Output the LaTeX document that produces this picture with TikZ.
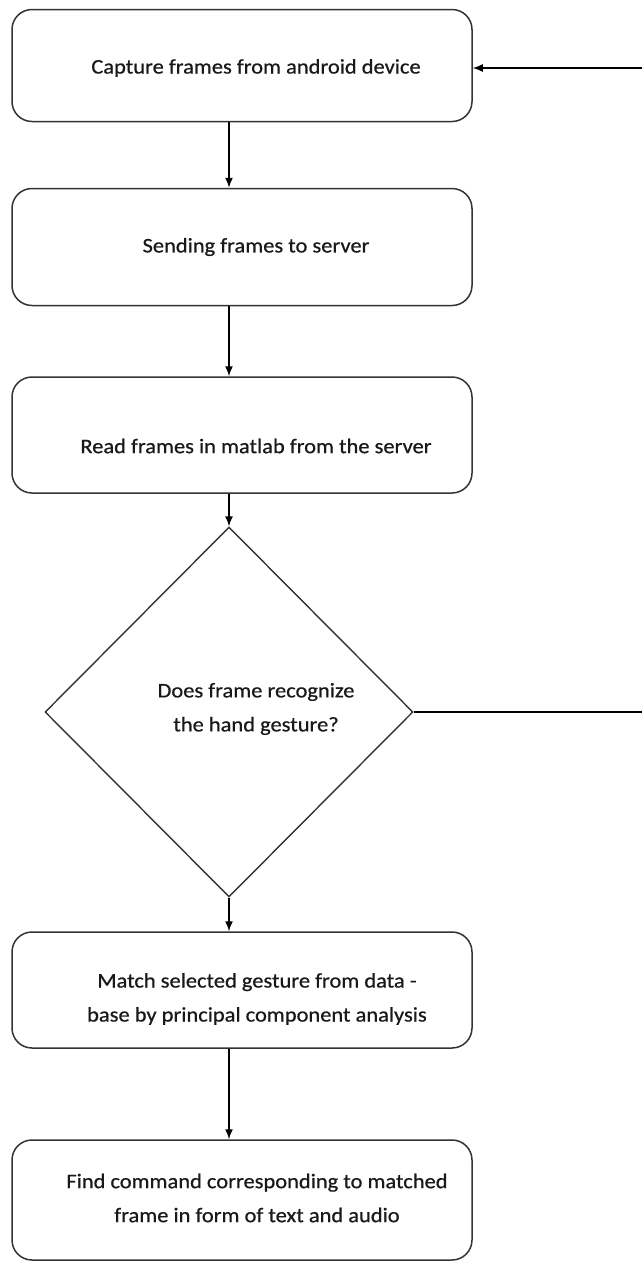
\documentclass[tikz,border=0pt]{standalone}
\usepackage{fontspec}
\setmainfont{Carlito}[FakeStretch=1.08,FakeBold=0.6]
\usetikzlibrary{shapes.geometric,arrows.meta}
\begin{document}
\begin{tikzpicture}[x=1pt,y=-1pt,
  box/.style={draw=black!80,line width=1.5pt,rounded corners=20pt,minimum width=460pt,inner sep=0pt},
  dec/.style={draw=black!80,line width=1.4pt,diamond,minimum width=368pt,minimum height=370pt,inner sep=0pt},
  txt/.style={text=black!90,align=center,font=\fontsize{20.8}{34}\selectfont},
  arr/.style={draw=black,line width=1.5pt,-{Latex[length=10pt,width=8pt]}},
  ln/.style={draw=black,line width=1.5pt}]
\useasboundingbox (0,0) rectangle (641,1262);
\fill[white] (0,0) rectangle (641,1262);
% boxes
\node[box,minimum height=112pt] (b1) at (242,65.5) {};
\node[box,minimum height=117pt] (b2) at (242,247) {};
\node[box,minimum height=116pt] (b3) at (242,435) {};
\node[dec] (d) at (229,712) {};
\node[box,minimum height=116pt] (b4) at (242,990) {};
\node[box,minimum height=120pt] (b5) at (242,1200) {};
% texts
\node[txt] (t1) at (256,68) {Capture frames from android device};
\node[txt] (t2) at (256,247) {Sending frames to server};
\node[txt] (t3) at (256,446) {Read frames in matlab from the server};
\node[txt] (t4) at (256,709) {Does frame recognize\\the hand gesture?};
\node[txt] (t5) at (257,999) {Match selected gesture from data -\\base by principal component analysis};
\node[txt] (t6) at (257,1198) {Find command corresponding to matched\\frame in form of text and audio};
% connectors
\draw[arr] (b1.south -| d.north) -- (b2.north -| d.north);
\draw[arr] (b2.south -| d.north) -- (b3.north -| d.north);
\draw[arr] (b3.south -| d.north) -- (d.north);
\draw[arr] (d.south) -- (b4.north -| d.south);
\draw[arr] (b4.south -| d.south) -- (b5.north -| d.south);
\coordinate (r1) at (652,712);
\coordinate (r2) at (652,68);
\draw[ln] (d.east) -- (r1) -- (r2);
\draw[arr] (r2) -- (r2 -| b1.east);
\end{tikzpicture}
\end{document}
